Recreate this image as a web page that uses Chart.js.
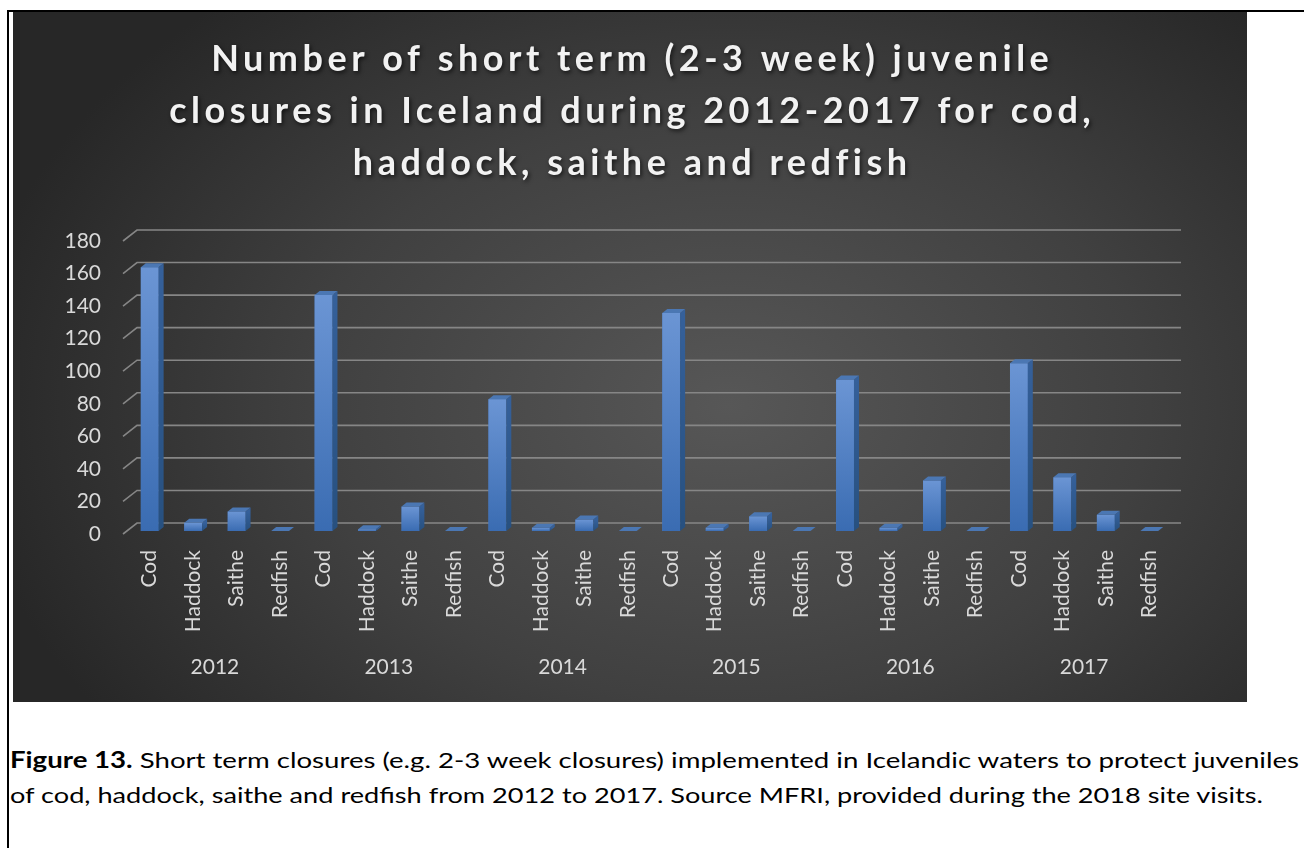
<!DOCTYPE html>
<html>
<head>
<meta charset="utf-8">
<script src="https://cdn.jsdelivr.net/npm/chart.js@4.4.1/dist/chart.umd.min.js"></script>
<style>
  html, body { margin:0; padding:0; background:#ffffff; width:1304px; height:848px; overflow:hidden; }
  #frameTop { position:absolute; left:7px; top:10px; width:1297px; height:2px; background:#000; }
  #frameLeft { position:absolute; left:7px; top:10px; width:2px; height:838px; background:#000; }
  #wrap { position:absolute; left:13px; top:12px; width:1234px; height:690px;
    background: radial-gradient(ellipse 62% 78% at 58% 57%, #575757 0%, #404040 55%, #272727 100%); }
  #caption { position:absolute; left:10px; top:742px; font-family:Lato, "Open Sans", sans-serif; font-size:22px;
    line-height:35px; color:#000; white-space:nowrap; }
  #caption .ln { display:block; height:35px; }
  #caption .ln span { display:inline-block; transform-origin:0 0; }
</style>
</head>
<body>
<div id="frameTop"></div>
<div id="frameLeft"></div>
<div id="wrap"><canvas id="c" width="1234" height="690"></canvas></div>
<div id="caption">
  <div class="ln"><span id="l1"><b>Figure 13.</b> Short term closures (e.g. 2-3 week closures) implemented in Icelandic waters to protect juveniles</span></div>
  <div class="ln"><span id="l2">of cod, haddock, saithe and redfish from 2012 to 2017. Source MFRI, provided during the 2018 site visits.</span></div>
</div>
<script>
// ---------- data ----------
const years = ['2012', '2013', '2014', '2015', '2016', '2017'];
const species = ['Cod', 'Haddock', 'Saithe', 'Redfish'];
const cod     = [162, 145, 81, 134, 93, 103];
const haddock = [5, 1, 2, 2, 2, 33];
const saithe  = [12, 15, 7, 9, 31, 10];
const redfish = [0, 0, 0, 0, 0, 0];
const yMin = 0, yMax = 180, yStep = 20;
const titleLines = ['Number of short term (2-3 week) juvenile',
                    'closures in Iceland during 2012-2017 for cod,',
                    'haddock, saithe and redfish'];

// build the flat category list and values from the arrays
const categories = [];
const values = [];
years.forEach((y, i) => {
  const row = [cod[i], haddock[i], saithe[i], redfish[i]];
  species.forEach((s, j) => { categories.push(s); values.push(row[j]); });
});

// ---------- plugins ----------
const DX = 5, DY = 4;   // bar depth offsets
const TITLE_SPACING = 4.5;

const wallGrid = {
  id: 'wallGrid',
  beforeDatasetsDraw(chart) {
    const y = chart.scales.y, a = chart.chartArea, ctx = chart.ctx;
    ctx.save();
    ctx.strokeStyle = '#868686';
    ctx.lineWidth = 1.6;
    y.ticks.forEach(t => {
      const py = y.getPixelForValue(t.value);
      ctx.beginPath();
      ctx.moveTo(a.left - 5, py + 3);
      ctx.lineTo(a.left + 9, py - 8);
      ctx.lineTo(a.right + 10, py - 8);
      ctx.stroke();
    });
    ctx.restore();
  }
};

const bars3d = {
  id: 'bars3d',
  afterDatasetsDraw(chart) {
    const ctx = chart.ctx;
    const meta = chart.getDatasetMeta(0);
    ctx.save();
    meta.data.forEach(el => {
      const p = el.getProps(['x', 'y', 'base', 'width'], true);
      const l = p.x - p.width / 2, r = p.x + p.width / 2;
      const top = Math.min(p.y, p.base), bot = p.base;
      const h = bot - top;
      if (h > 0.5) {
        const g = ctx.createLinearGradient(0, top, 0, bot);
        g.addColorStop(0, '#6b95d4');
        g.addColorStop(1, '#3a6cb2');
        ctx.fillStyle = g;
        ctx.fillRect(l, top, r - l, h);
        const gs = ctx.createLinearGradient(0, top, 0, bot);
        gs.addColorStop(0, '#35609a');
        gs.addColorStop(1, '#27507f');
        ctx.fillStyle = gs;
        ctx.beginPath();
        ctx.moveTo(r, top); ctx.lineTo(r + DX, top - DY);
        ctx.lineTo(r + DX, bot - DY); ctx.lineTo(r, bot);
        ctx.closePath(); ctx.fill();
      }
      ctx.fillStyle = '#4b77b3';
      ctx.beginPath();
      ctx.moveTo(l, top); ctx.lineTo(l + DX, top - DY);
      ctx.lineTo(r + DX, top - DY); ctx.lineTo(r, top);
      ctx.closePath(); ctx.fill();
    });
    ctx.restore();
  }
};

const titleStyle = {
  id: 'titleStyle',
  beforeDraw(chart) {
    const tb = chart.titleBlock;
    if (tb && !tb._styled) {
      const orig = tb.draw;
      tb.draw = function (...args) {
        const c = this.ctx;
        c.save();
        // centre on the full canvas width instead of the padded layout box
        c.translate(chart.width / 2 - (this.left + this.right) / 2 + TITLE_SPACING / 2, 0);
        c.letterSpacing = TITLE_SPACING + 'px';
        c.shadowColor = 'rgba(0,0,0,0.65)';
        c.shadowBlur = 4;
        c.shadowOffsetX = 1.5;
        c.shadowOffsetY = 2;
        orig.apply(this, args);
        c.restore();
      };
      tb._styled = true;
    }
  }
};

Chart.defaults.font.family = 'Lato, "Open Sans", sans-serif';
Chart.defaults.color = '#d9d9d9';

new Chart(document.getElementById('c'), {
  type: 'bar',
  data: {
    labels: categories,
    datasets: [{
      data: values,
      backgroundColor: '#4a7cc2',
      borderWidth: 0,
      categoryPercentage: 1.0,
      barPercentage: 0.41,
      xAxisID: 'x',
      yAxisID: 'y'
    }]
  },
  options: {
    responsive: false,
    animation: false,
    events: [],
    layout: { padding: { left: 0, right: 76, top: 0, bottom: 19 } },
    plugins: {
      legend: { display: false },
      tooltip: { enabled: false },
      title: {
        display: true,
        text: titleLines,
        color: '#f2f2f2',
        font: { size: 36, weight: 'bold', lineHeight: 52 / 36 },
        padding: { top: 21, bottom: 49 }
      }
    },
    scales: {
      x: {
        type: 'category',
        position: 'bottom',
        offset: true,
        grid: { display: false, drawTicks: false },
        border: { display: false },
        ticks: { autoSkip: false, minRotation: 90, maxRotation: 90, padding: 19,
                 font: { size: 21 }, color: '#d9d9d9' },
        afterFit(s) { s.height = 122; }
      },
      years: {
        type: 'category',
        labels: years,
        position: 'bottom',
        offset: true,
        grid: { display: false, drawTicks: false },
        border: { display: false },
        ticks: { autoSkip: false, maxRotation: 0, padding: 2, font: { size: 21 }, color: '#d9d9d9' },
        afterFit(s) { s.height = 30; }
      },
      y: {
        min: yMin, max: yMax,
        grid: { display: false, drawTicks: false },
        border: { display: false },
        ticks: { stepSize: yStep, padding: 27, labelOffset: 3, font: { size: 21 }, color: '#d9d9d9' },
        afterFit(s) { s.width = 115; }
      }
    }
  },
  plugins: [wallGrid, bars3d, titleStyle]
});

// fit caption lines to the reference line lengths
(function () {
  const l1 = document.getElementById('l1');
  const l2 = document.getElementById('l2');
  const k1 = 1289 / l1.getBoundingClientRect().width;
  const k2 = 1253 / l2.getBoundingClientRect().width;
  l1.style.transform = 'scaleX(' + k1 + ')';
  l2.style.transform = 'scaleX(' + k2 + ')';
})();
</script>
</body>
</html>
